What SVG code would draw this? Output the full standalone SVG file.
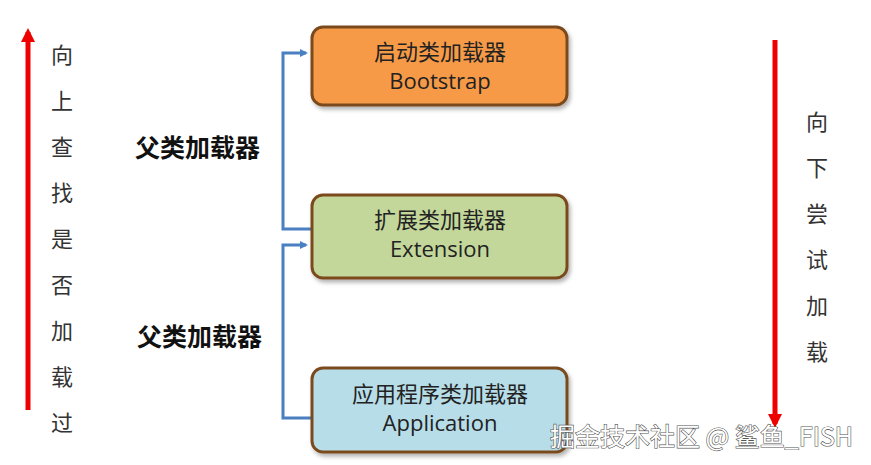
<svg xmlns="http://www.w3.org/2000/svg" width="871" height="465" viewBox="0 0 871 465">
<defs>
<style>
.box{stroke:#7a4a1e;stroke-width:3}
.cn{font-family:"Noto Sans CJK SC","Noto Sans",sans-serif;font-size:22px;fill:#222;text-anchor:middle}
.en{font-family:"Open Sans","Noto Sans",sans-serif;font-size:22px;fill:#222;text-anchor:middle}
.side{font-family:"Noto Sans CJK SC",sans-serif;font-size:22px;fill:#333;text-anchor:middle}
.lbl{font-family:"Noto Sans CJK SC",sans-serif;font-size:25px;font-weight:bold;fill:#111}
.conn{fill:none;stroke:#4a7fc1;stroke-width:3}
.red{stroke:#ee0000;stroke-width:5}
.wm{font-family:"Noto Sans CJK SC",sans-serif;font-size:25px;fill:#fff;stroke:#555;stroke-width:1.2;paint-order:stroke}
</style>
<marker id="ab" markerWidth="8" markerHeight="8" refX="6" refY="4" orient="auto" markerUnits="userSpaceOnUse"><path d="M0,0 L8,4 L0,8 Z" fill="#4a7fc1"/></marker>
<marker id="ar" markerWidth="14" markerHeight="14" refX="10" refY="7" orient="auto" markerUnits="userSpaceOnUse"><path d="M0,0 L14,7 L0,14 Z" fill="#ee0000"/></marker>
<filter id="sh" x="-10%" y="-10%" width="130%" height="140%"><feDropShadow dx="2" dy="3" stdDeviation="2" flood-color="#000" flood-opacity="0.3"/></filter>
</defs>
<rect width="871" height="465" fill="#fff"/>
<g id="connectors">
<polyline class="conn" points="312,229 283,229 283,53 306,53" marker-end="url(#ab)"/>
<polyline class="conn" points="312,418 283,418 283,245 306,245" marker-end="url(#ab)"/>
<line class="red" x1="28" y1="410" x2="28" y2="32" marker-end="url(#ar)"/>
<line class="red" x1="775" y1="40" x2="775" y2="424" marker-end="url(#ar)"/>
</g>
<g id="bootstrap">
<rect class="box" x="312" y="27" width="255" height="78" rx="11" fill="#f79a47" filter="url(#sh)"/>
<text class="cn" x="440" y="60">启动类加载器</text>
<text class="en" x="440" y="89">Bootstrap</text>
</g>
<g id="extension">
<rect class="box" x="312" y="195" width="255" height="83" rx="11" fill="#c4d79b" filter="url(#sh)"/>
<text class="cn" x="440" y="228">扩展类加载器</text>
<text class="en" x="440" y="257">Extension</text>
</g>
<g id="application">
<rect class="box" x="312" y="368" width="255" height="84" rx="11" fill="#b7dde8" filter="url(#sh)"/>
<text class="cn" x="440" y="402">应用程序类加载器</text>
<text class="en" x="440" y="431">Application</text>
</g>
<g id="label-parent1"><text class="lbl" x="135" y="157">父类加载器</text></g>
<g id="label-parent2"><text class="lbl" x="137" y="346">父类加载器</text></g>
<g id="left-text">
<text class="side" x="62" y="63">向</text>
<text class="side" x="62" y="109">上</text>
<text class="side" x="62" y="155">查</text>
<text class="side" x="62" y="201">找</text>
<text class="side" x="62" y="247">是</text>
<text class="side" x="62" y="293">否</text>
<text class="side" x="62" y="339">加</text>
<text class="side" x="62" y="385">载</text>
<text class="side" x="62" y="431">过</text>
</g>
<g id="right-text">
<text class="side" x="817" y="130">向</text>
<text class="side" x="817" y="176">下</text>
<text class="side" x="817" y="222">尝</text>
<text class="side" x="817" y="268">试</text>
<text class="side" x="817" y="314">加</text>
<text class="side" x="817" y="360">载</text>
</g>
<text class="wm" x="550" y="446">掘金技术社区 @ 鲨鱼_FISH</text>
</svg>
